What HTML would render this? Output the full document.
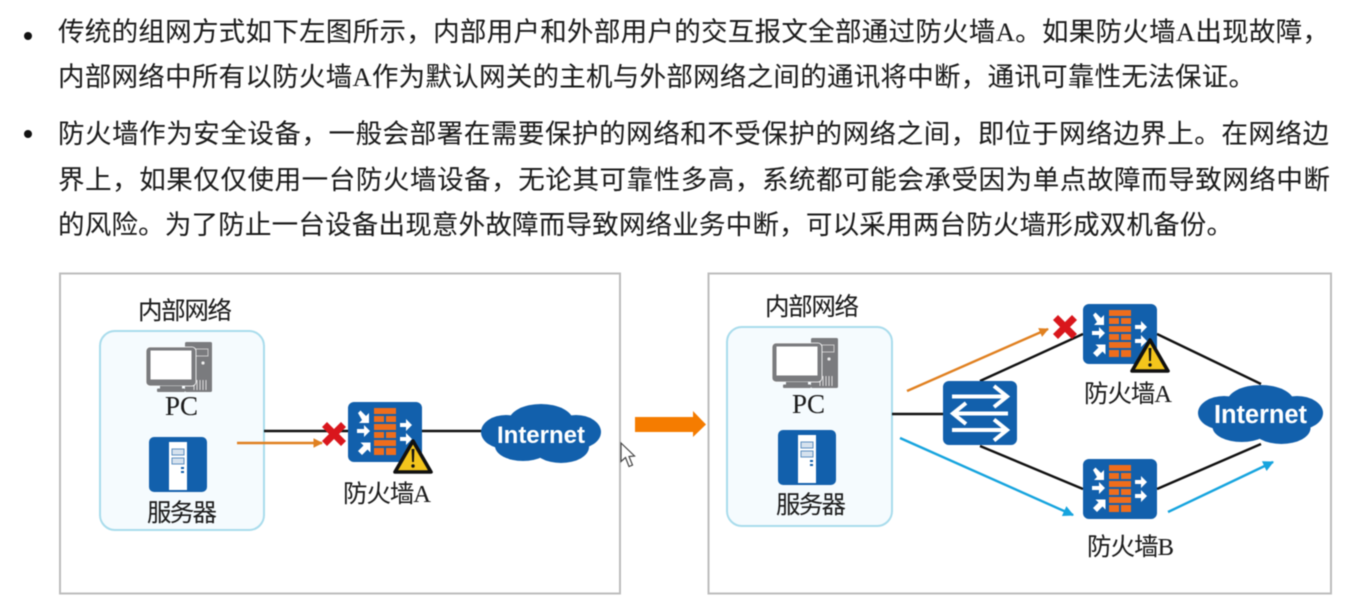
<!DOCTYPE html>
<html lang="zh-CN"><head><meta charset="utf-8"><title>双机备份</title>
<style>
html,body{margin:0;padding:0;background:#fff;width:1355px;height:609px;overflow:hidden}
svg{display:block;filter:blur(.45px)}
text{font-family:"Liberation Serif","Noto Sans CJK SC",serif;fill:#1c1c1c;stroke:#1c1c1c;stroke-width:.08px}
.m{font-size:26.500px}
.l{font-size:24.500px}
.pc{font-size:27px}
.net{font-family:"Liberation Sans",sans-serif;font-weight:700;fill:#fff;stroke:none}
</style></head><body>
<svg width="1355" height="609" viewBox="0 0 1355 609" xmlns="http://www.w3.org/2000/svg">
<defs>
<g id="fw">
<rect width="74" height="60" rx="6" fill="#1260ac"/>
<g fill="#ef6d1c">
<rect x="26" y="6" width="22" height="6"/>
<rect x="26" y="14" width="10" height="6"/><rect x="38" y="14" width="10" height="6"/>
<rect x="26" y="22" width="22" height="6"/>
<rect x="26" y="30" width="10" height="6"/><rect x="38" y="30" width="10" height="6"/>
<rect x="26" y="38" width="22" height="6"/>
<rect x="26" y="46" width="10" height="7"/><rect x="38" y="46" width="10" height="7"/>
</g>
<g fill="#fff">
<path d="M10 11l2.500-2.500 5.500 5.500 3-3 0 10-10 0 3-3z"/>
<path d="M9 27h7v-4l6 6-6 6v-4h-7z"/>
<path d="M10 49l5.500-5.500-3-3 10 0 0 10-3-3-5.500 5.500z"/>
<path d="M52 21h6v-4l6 6-6 6v-4h-6z"/>
<path d="M52 35h6v-4l6 6-6 6v-4h-6z"/>
</g>
</g>
<g id="warn">
<path d="M20 2L38 33H2z" fill="#f4c51c" stroke="#111" stroke-width="3.600" stroke-linejoin="round"/>
<path d="M18.600 10h2.800l-.5 13h-1.800z" fill="#111"/><circle cx="20" cy="27" r="1.700" fill="#111"/>
</g>
<g id="x"><path d="M-12-7l5-5 7 7 7-7 5 5-7 7 7 7-5 5-7-7-7 7-5-5 7-7z" fill="#d9161c"/></g>
<g id="pc">
<rect x="39" y="0" width="27" height="50" rx="1.500" fill="#7a7b7e"/>
<rect x="43" y="7" width="19" height="7" fill="none" stroke="#c9c9c9" stroke-width="1"/>
<circle cx="57" cy="21" r="1.600" fill="#eee"/>
<g stroke="#ddd" stroke-width="1"><path d="M48 38v10M51 38v10M54 38v10M57 38v10M60 38v10"/></g>
<rect x="0" y="5" width="50" height="39" rx="4" fill="#7a7b7e" stroke="#fff" stroke-width=".8"/>
<rect x="4.500" y="8.500" width="41" height="29" fill="#fff"/>
<rect x="14" y="44" width="22" height="3" fill="#7a7b7e"/>
<rect x="11" y="46.500" width="28" height="3.500" rx="1" fill="#7a7b7e"/>
</g>
<g id="srv">
<rect width="58" height="55" rx="5" fill="#1260ac"/>
<rect x="20" y="5" width="18" height="48" fill="#fff"/>
<rect x="23" y="12" width="12" height="6" fill="#d6e2ee" stroke="#5d8fc0" stroke-width="1"/>
<rect x="23" y="21" width="12" height="6" fill="#d6e2ee" stroke="#5d8fc0" stroke-width="1"/>
<rect x="32" y="30" width="3" height="2" fill="#1260ac"/><rect x="32" y="34" width="3" height="2" fill="#1260ac"/>
</g>
<g id="cloud" fill="#1260ac">
<rect x="20" y="14" width="80" height="30"/>
<ellipse cx="25" cy="28" rx="25" ry="17"/><ellipse cx="95" cy="28" rx="25" ry="17"/>
<ellipse cx="60" cy="17" rx="32" ry="17"/>
<ellipse cx="42" cy="42" rx="28" ry="15"/><ellipse cx="80" cy="43" rx="28" ry="16"/>
</g>
<marker id="mo" viewBox="0 0 10 10" refX="9" refY="5" markerWidth="4" markerHeight="4" orient="auto"><path d="M0 0L10 5L0 10z" fill="#e08020"/></marker>
<marker id="mb" viewBox="0 0 10 10" refX="9" refY="5" markerWidth="4.500" markerHeight="4.500" orient="auto"><path d="M0 0L10 5L0 10z" fill="#16a4de"/></marker>
</defs>

<circle cx="28" cy="36" r="4" fill="#111"/>
<circle cx="28" cy="134" r="4" fill="#111"/>
<text class="m" x="58" y="41" textLength="1271" lengthAdjust="spacing">传统的组网方式如下左图所示，内部用户和外部用户的交互报文全部通过防火墙A。如果防火墙A出现故障，</text>
<text class="m" x="58" y="86" textLength="1197" lengthAdjust="spacing">内部网络中所有以防火墙A作为默认网关的主机与外部网络之间的通讯将中断，通讯可靠性无法保证。</text>
<text class="m" x="58" y="143" textLength="1271" lengthAdjust="spacing">防火墙作为安全设备，一般会部署在需要保护的网络和不受保护的网络之间，即位于网络边界上。在网络边</text>
<text class="m" x="58" y="189" textLength="1272" lengthAdjust="spacing">界上，如果仅仅使用一台防火墙设备，无论其可靠性多高，系统都可能会承受因为单点故障而导致网络中断</text>
<text class="m" x="58" y="234" textLength="1175" lengthAdjust="spacing">的风险。为了防止一台设备出现意外故障而导致网络业务中断，可以采用两台防火墙形成双机备份。</text>

<rect x="60" y="273.500" width="560" height="320" fill="#fff" stroke="#bdbdbd" stroke-width="2"/>
<rect x="708.500" y="273.500" width="622.500" height="320" fill="#fff" stroke="#bdbdbd" stroke-width="2"/>

<!-- Left diagram -->
<rect x="100" y="331" width="164" height="199" rx="15" fill="#f5fbfe" stroke="#a9dcec" stroke-width="2"/>
<text class="l" x="138" y="319" textLength="94" lengthAdjust="spacing">内部网络</text>
<use href="#pc" x="146" y="342"/>
<text class="pc" x="165" y="415">PC</text>
<use href="#srv" x="149" y="437"/>
<text class="l" x="147" y="521" textLength="70" lengthAdjust="spacing">服务器</text>
<line x1="264" y1="431" x2="348" y2="431" stroke="#111" stroke-width="2.400"/>
<line x1="237" y1="443" x2="322" y2="443" stroke="#e08020" stroke-width="2.400" marker-end="url(#mo)"/>
<use href="#x" x="334" y="434"/>
<line x1="422" y1="431" x2="484" y2="431" stroke="#111" stroke-width="2.400"/>
<use href="#fw" x="348" y="402"/>
<use href="#warn" x="393" y="439"/>
<text class="l" x="343" y="502" textLength="88" lengthAdjust="spacing">防火墙A</text>
<use href="#cloud" x="481" y="404"/>
<text class="net" x="497" y="443" font-size="24" textLength="88" lengthAdjust="spacing">Internet</text>

<!-- Transition arrow -->
<path d="M635 417H693V411L706 424.500L693 437V432H635z" fill="#f57c00"/>
<path d="M621 443V461.500L625.500 457.500L629 466.500L632.500 465L629 456.500L634.500 456z" fill="#fff" stroke="#444" stroke-width="1.200"/>

<!-- Right diagram -->
<rect x="727" y="327" width="165" height="199" rx="15" fill="#f5fbfe" stroke="#a9dcec" stroke-width="2"/>
<text class="l" x="765" y="315" textLength="94" lengthAdjust="spacing">内部网络</text>
<use href="#pc" x="772" y="338"/>
<text class="pc" x="792" y="413">PC</text>
<use href="#srv" x="778" y="430"/>
<text class="l" x="776" y="513" textLength="70" lengthAdjust="spacing">服务器</text>
<line x1="892" y1="414" x2="943" y2="414" stroke="#111" stroke-width="2.400"/>
<g stroke="#111" stroke-width="2.400">
<line x1="980" y1="381" x2="1083" y2="334"/>
<line x1="1157" y1="334" x2="1261" y2="384"/>
<line x1="980" y1="446" x2="1083" y2="489"/>
<line x1="1157" y1="489" x2="1261" y2="444"/>
</g>
<line x1="907" y1="391" x2="1048" y2="329" stroke="#e08020" stroke-width="2.400" marker-end="url(#mo)"/>
<line x1="900" y1="438" x2="1073" y2="515" stroke="#16a4de" stroke-width="2.400" marker-end="url(#mb)"/>
<line x1="1168" y1="512" x2="1273" y2="462" stroke="#16a4de" stroke-width="2.400" marker-end="url(#mb)"/>
<use href="#x" x="1065" y="327"/>
<rect x="943" y="381" width="74" height="64" rx="6" fill="#1260ac"/>
<g fill="none" stroke="#fff" stroke-width="4">
<path d="M952 396.500H1005M994 386L1007 396.500L994 407"/>
<path d="M1008 413.500H955M966 403L953 413.500L966 424"/>
<path d="M952 430H1005M994 419.500L1007 430L994 440.500"/>
</g>
<use href="#fw" x="1083" y="304"/>
<use href="#warn" x="1130" y="338"/>
<use href="#fw" x="1083" y="459"/>
<text class="l" x="1084" y="402" textLength="88" lengthAdjust="spacing">防火墙A</text>
<text class="l" x="1087" y="555" textLength="87" lengthAdjust="spacing">防火墙B</text>
<use href="#cloud" transform="translate(1198 385) scale(1.042 1)"/>
<text class="net" x="1214" y="423" font-size="25.500" textLength="93" lengthAdjust="spacing">Internet</text>
</svg>
</body></html>
